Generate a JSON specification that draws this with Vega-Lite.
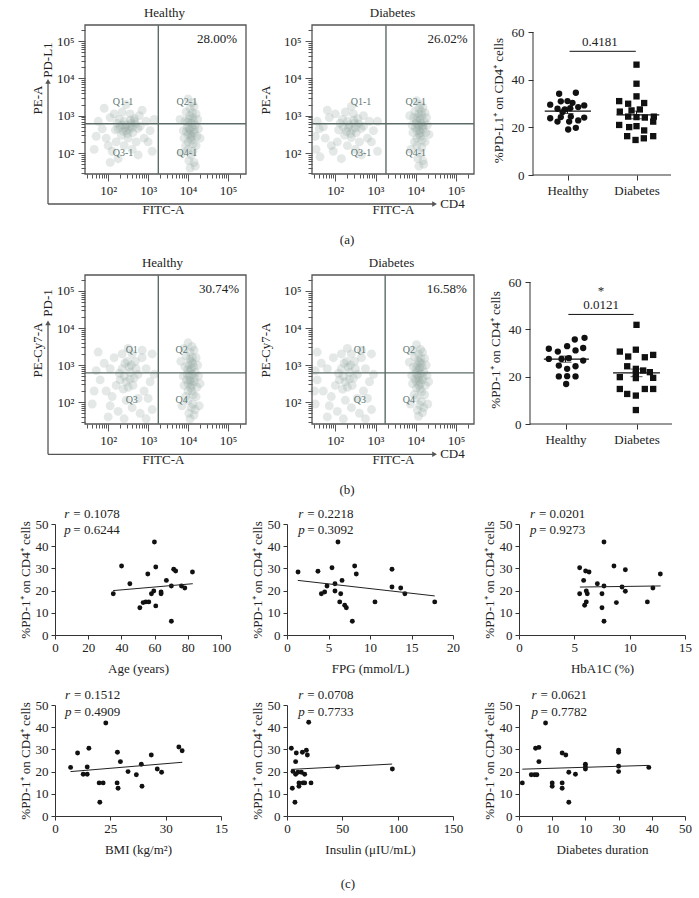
{
"$schema": "https://vega.github.io/schema/vega-lite/v6.json",
"autosize": {"type": "pad"},
"padding": {"left": 18, "top": 6, "right": 5, "bottom": 5},
"background": "white",
"config": {
  "font": "Liberation Serif",
  "view": {"stroke": null},
  "axis": {"labelFont": "Liberation Serif", "titleFont": "Liberation Serif", "labelFontSize": 13, "titleFontSize": 13, "titleFontWeight": "normal", "labelColor": "#222", "titleColor": "#222", "domainColor": "#333", "tickColor": "#333", "grid": false, "labelFlush": false, "labelOverlap": false},
  "title": {"font": "Liberation Serif", "fontSize": 13, "fontWeight": "normal", "color": "#222", "offset": 4},
  "text": {"font": "Liberation Serif", "fontSize": 13, "color": "#222"}
},
"datasets": {
  "flow": [
    {"p":"a1","x":2.30,"y":2.70},{"p":"a1","x":2.45,"y":2.75},{"p":"a1","x":2.60,"y":2.68},{"p":"a1","x":2.38,"y":2.58},{"p":"a1","x":2.52,"y":2.62},{"p":"a1","x":2.68,"y":2.78},{"p":"a1","x":2.22,"y":2.80},{"p":"a1","x":2.40,"y":2.85},{"p":"a1","x":2.56,"y":2.88},{"p":"a1","x":2.74,"y":2.66},{"p":"a1","x":2.33,"y":2.48},{"p":"a1","x":2.48,"y":2.52},{"p":"a1","x":2.62,"y":2.55},{"p":"a1","x":2.18,"y":2.62},{"p":"a1","x":2.80,"y":2.72},{"p":"a1","x":2.42,"y":2.68},{"p":"a1","x":2.58,"y":2.80},{"p":"a1","x":2.28,"y":2.90},{"p":"a1","x":2.66,"y":2.92},{"p":"a1","x":2.50,"y":2.40},{"p":"a1","x":1.85,"y":2.65},{"p":"a1","x":1.95,"y":2.40},{"p":"a1","x":2.05,"y":2.95},{"p":"a1","x":2.00,"y":2.20},{"p":"a1","x":2.15,"y":3.05},{"p":"a1","x":2.35,"y":3.10},{"p":"a1","x":2.55,"y":3.05},{"p":"a1","x":2.78,"y":3.00},{"p":"a1","x":2.95,"y":2.85},{"p":"a1","x":3.05,"y":2.60},{"p":"a1","x":2.90,"y":2.40},{"p":"a1","x":2.70,"y":2.30},{"p":"a1","x":2.40,"y":2.20},{"p":"a1","x":2.20,"y":2.30},{"p":"a1","x":1.75,"y":2.85},{"p":"a1","x":2.10,"y":2.05},{"p":"a1","x":2.60,"y":2.10},{"p":"a1","x":3.00,"y":2.30},{"p":"a1","x":1.70,"y":2.45},{"p":"a1","x":2.85,"y":3.15},{"p":"a1","x":1.65,"y":2.10},{"p":"a1","x":2.25,"y":1.85},{"p":"a1","x":2.75,"y":1.95},{"p":"a1","x":3.10,"y":2.05},{"p":"a1","x":1.90,"y":3.20},{"p":"a1","x":2.45,"y":3.30},{"p":"a1","x":3.15,"y":2.90},{"p":"a1","x":2.05,"y":1.75},{"p":"a1","x":2.35,"y":2.75},{"p":"a1","x":2.55,"y":2.72},{"p":"a1","x":2.45,"y":2.60},{"p":"a1","x":2.65,"y":2.85},{"p":"a1","x":2.25,"y":2.65},
    {"p":"a1","x":4.05,"y":2.60},{"p":"a1","x":4.10,"y":2.70},{"p":"a1","x":4.00,"y":2.50},{"p":"a1","x":4.15,"y":2.55},{"p":"a1","x":4.08,"y":2.80},{"p":"a1","x":4.02,"y":2.90},{"p":"a1","x":4.12,"y":2.95},{"p":"a1","x":4.06,"y":2.40},{"p":"a1","x":3.98,"y":2.70},{"p":"a1","x":4.18,"y":2.75},{"p":"a1","x":4.10,"y":2.45},{"p":"a1","x":4.04,"y":3.00},{"p":"a1","x":4.14,"y":2.85},{"p":"a1","x":4.00,"y":2.30},{"p":"a1","x":4.09,"y":2.35},{"p":"a1","x":4.16,"y":2.62},{"p":"a1","x":3.96,"y":2.58},{"p":"a1","x":4.07,"y":2.50},{"p":"a1","x":4.11,"y":3.08},{"p":"a1","x":4.03,"y":2.65},{"p":"a1","x":4.13,"y":2.25},{"p":"a1","x":3.99,"y":2.82},{"p":"a1","x":3.90,"y":2.40},{"p":"a1","x":3.92,"y":2.85},{"p":"a1","x":4.22,"y":2.45},{"p":"a1","x":4.24,"y":2.90},{"p":"a1","x":4.05,"y":3.20},{"p":"a1","x":4.15,"y":3.25},{"p":"a1","x":3.95,"y":3.10},{"p":"a1","x":4.00,"y":2.10},{"p":"a1","x":4.12,"y":2.05},{"p":"a1","x":4.20,"y":2.20},{"p":"a1","x":3.88,"y":2.60},{"p":"a1","x":4.26,"y":2.65},{"p":"a1","x":4.08,"y":1.95},{"p":"a1","x":4.02,"y":1.80},{"p":"a1","x":4.15,"y":1.75},{"p":"a1","x":4.10,"y":3.35},{"p":"a1","x":3.94,"y":2.20},{"p":"a1","x":4.20,"y":3.05},{"p":"a1","x":4.05,"y":1.60},{"p":"a1","x":4.18,"y":1.65},{"p":"a1","x":3.85,"y":2.00},{"p":"a1","x":3.80,"y":2.90},{"p":"a1","x":4.30,"y":2.40},{"p":"a1","x":4.00,"y":3.45},
    {"p":"a2","x":2.20,"y":2.70},{"p":"a2","x":2.35,"y":2.75},{"p":"a2","x":2.50,"y":2.68},{"p":"a2","x":2.28,"y":2.58},{"p":"a2","x":2.42,"y":2.62},{"p":"a2","x":2.58,"y":2.78},{"p":"a2","x":2.12,"y":2.80},{"p":"a2","x":2.30,"y":2.85},{"p":"a2","x":2.46,"y":2.88},{"p":"a2","x":2.64,"y":2.66},{"p":"a2","x":2.23,"y":2.48},{"p":"a2","x":2.38,"y":2.52},{"p":"a2","x":2.52,"y":2.55},{"p":"a2","x":2.08,"y":2.62},{"p":"a2","x":2.70,"y":2.72},{"p":"a2","x":2.32,"y":2.68},{"p":"a2","x":2.48,"y":2.80},{"p":"a2","x":2.18,"y":2.90},{"p":"a2","x":2.56,"y":2.92},{"p":"a2","x":2.40,"y":2.42},{"p":"a2","x":1.60,"y":2.65},{"p":"a2","x":1.75,"y":2.40},{"p":"a2","x":1.85,"y":2.95},{"p":"a2","x":1.90,"y":2.20},{"p":"a2","x":2.00,"y":3.05},{"p":"a2","x":2.25,"y":3.10},{"p":"a2","x":2.45,"y":3.05},{"p":"a2","x":2.70,"y":3.00},{"p":"a2","x":2.85,"y":2.85},{"p":"a2","x":2.95,"y":2.60},{"p":"a2","x":2.80,"y":2.40},{"p":"a2","x":2.60,"y":2.30},{"p":"a2","x":2.30,"y":2.20},{"p":"a2","x":2.05,"y":2.30},{"p":"a2","x":1.55,"y":2.85},{"p":"a2","x":1.95,"y":2.05},{"p":"a2","x":2.50,"y":2.10},{"p":"a2","x":2.90,"y":2.30},{"p":"a2","x":1.50,"y":2.45},{"p":"a2","x":1.70,"y":2.70},{"p":"a2","x":1.52,"y":2.10},{"p":"a2","x":2.15,"y":1.85},{"p":"a2","x":2.65,"y":1.95},{"p":"a2","x":3.05,"y":2.05},{"p":"a2","x":1.80,"y":3.15},{"p":"a2","x":2.40,"y":3.25},{"p":"a2","x":3.05,"y":2.85},{"p":"a2","x":1.62,"y":1.90},
    {"p":"a2","x":4.08,"y":2.70},{"p":"a2","x":4.13,"y":2.80},{"p":"a2","x":4.03,"y":2.60},{"p":"a2","x":4.18,"y":2.65},{"p":"a2","x":4.11,"y":2.90},{"p":"a2","x":4.05,"y":2.95},{"p":"a2","x":4.15,"y":3.00},{"p":"a2","x":4.09,"y":2.50},{"p":"a2","x":4.01,"y":2.80},{"p":"a2","x":4.21,"y":2.85},{"p":"a2","x":4.13,"y":2.55},{"p":"a2","x":4.07,"y":3.05},{"p":"a2","x":4.17,"y":2.75},{"p":"a2","x":4.03,"y":2.40},{"p":"a2","x":4.12,"y":2.45},{"p":"a2","x":4.19,"y":2.72},{"p":"a2","x":3.99,"y":2.68},{"p":"a2","x":4.10,"y":2.60},{"p":"a2","x":4.14,"y":3.10},{"p":"a2","x":4.06,"y":2.75},{"p":"a2","x":4.16,"y":2.35},{"p":"a2","x":4.02,"y":2.88},{"p":"a2","x":3.93,"y":2.55},{"p":"a2","x":3.95,"y":2.95},{"p":"a2","x":4.25,"y":2.55},{"p":"a2","x":4.27,"y":2.95},{"p":"a2","x":4.08,"y":3.20},{"p":"a2","x":4.18,"y":3.22},{"p":"a2","x":3.98,"y":3.12},{"p":"a2","x":4.03,"y":2.20},{"p":"a2","x":4.15,"y":2.15},{"p":"a2","x":4.23,"y":2.30},{"p":"a2","x":3.91,"y":2.75},{"p":"a2","x":4.29,"y":2.75},{"p":"a2","x":4.11,"y":2.00},{"p":"a2","x":4.05,"y":1.85},{"p":"a2","x":4.18,"y":1.80},{"p":"a2","x":4.12,"y":3.30},{"p":"a2","x":3.97,"y":2.30},{"p":"a2","x":4.23,"y":3.08},{"p":"a2","x":4.08,"y":1.65},{"p":"a2","x":4.20,"y":1.70},{"p":"a2","x":3.88,"y":2.10},{"p":"a2","x":3.85,"y":3.00},{"p":"a2","x":4.33,"y":2.50},{"p":"a2","x":4.02,"y":3.40},
    {"p":"b1","x":2.40,"y":2.70},{"p":"b1","x":2.55,"y":2.80},{"p":"b1","x":2.65,"y":2.65},{"p":"b1","x":2.45,"y":2.55},{"p":"b1","x":2.58,"y":3.00},{"p":"b1","x":2.35,"y":2.90},{"p":"b1","x":2.70,"y":2.90},{"p":"b1","x":2.50,"y":2.40},{"p":"b1","x":2.30,"y":2.60},{"p":"b1","x":2.62,"y":2.45},{"p":"b1","x":2.48,"y":3.10},{"p":"b1","x":2.75,"y":2.75},{"p":"b1","x":2.38,"y":2.35},{"p":"b1","x":2.55,"y":2.62},{"p":"b1","x":2.42,"y":3.05},{"p":"b1","x":2.68,"y":3.10},{"p":"b1","x":2.28,"y":2.78},{"p":"b1","x":2.52,"y":2.95},{"p":"b1","x":1.80,"y":2.60},{"p":"b1","x":1.95,"y":2.30},{"p":"b1","x":2.05,"y":2.90},{"p":"b1","x":2.10,"y":2.15},{"p":"b1","x":2.15,"y":3.20},{"p":"b1","x":2.35,"y":3.30},{"p":"b1","x":2.60,"y":3.30},{"p":"b1","x":2.85,"y":3.20},{"p":"b1","x":2.95,"y":2.90},{"p":"b1","x":3.05,"y":2.55},{"p":"b1","x":2.90,"y":2.30},{"p":"b1","x":2.75,"y":2.10},{"p":"b1","x":2.45,"y":2.05},{"p":"b1","x":2.20,"y":2.45},{"p":"b1","x":1.70,"y":2.85},{"p":"b1","x":2.05,"y":1.90},{"p":"b1","x":2.60,"y":1.85},{"p":"b1","x":3.00,"y":2.10},{"p":"b1","x":1.65,"y":2.30},{"p":"b1","x":2.85,"y":3.40},{"p":"b1","x":1.90,"y":3.05},{"p":"b1","x":2.25,"y":1.75},{"p":"b1","x":2.80,"y":1.70},{"p":"b1","x":2.50,"y":3.45},{"p":"b1","x":1.60,"y":1.95},{"p":"b1","x":2.00,"y":1.60},{"p":"b1","x":3.10,"y":1.80},{"p":"b1","x":3.15,"y":2.75},{"p":"b1","x":1.75,"y":3.35},{"p":"b1","x":2.40,"y":1.55},{"p":"b1","x":2.95,"y":1.55},{"p":"b1","x":3.10,"y":3.30},
    {"p":"b1","x":4.05,"y":2.60},{"p":"b1","x":4.10,"y":2.75},{"p":"b1","x":4.00,"y":2.50},{"p":"b1","x":4.15,"y":2.55},{"p":"b1","x":4.08,"y":2.90},{"p":"b1","x":4.02,"y":3.00},{"p":"b1","x":4.12,"y":3.05},{"p":"b1","x":4.06,"y":2.40},{"p":"b1","x":3.98,"y":2.75},{"p":"b1","x":4.18,"y":2.80},{"p":"b1","x":4.10,"y":2.45},{"p":"b1","x":4.04,"y":3.15},{"p":"b1","x":4.14,"y":2.95},{"p":"b1","x":4.00,"y":2.30},{"p":"b1","x":4.09,"y":2.30},{"p":"b1","x":4.16,"y":2.65},{"p":"b1","x":3.96,"y":2.60},{"p":"b1","x":4.07,"y":2.55},{"p":"b1","x":4.11,"y":3.20},{"p":"b1","x":4.03,"y":2.70},{"p":"b1","x":4.13,"y":2.20},{"p":"b1","x":3.99,"y":2.88},{"p":"b1","x":4.08,"y":3.10},{"p":"b1","x":4.05,"y":2.85},{"p":"b1","x":3.90,"y":2.45},{"p":"b1","x":3.92,"y":2.95},{"p":"b1","x":4.22,"y":2.40},{"p":"b1","x":4.24,"y":3.00},{"p":"b1","x":4.05,"y":3.35},{"p":"b1","x":4.15,"y":3.40},{"p":"b1","x":3.95,"y":3.25},{"p":"b1","x":4.00,"y":2.05},{"p":"b1","x":4.12,"y":1.95},{"p":"b1","x":4.20,"y":2.15},{"p":"b1","x":3.88,"y":2.70},{"p":"b1","x":4.26,"y":2.70},{"p":"b1","x":4.08,"y":1.85},{"p":"b1","x":4.02,"y":1.70},{"p":"b1","x":4.15,"y":1.65},{"p":"b1","x":4.10,"y":3.50},{"p":"b1","x":3.94,"y":2.15},{"p":"b1","x":4.20,"y":3.20},{"p":"b1","x":4.05,"y":1.55},{"p":"b1","x":4.18,"y":1.80},{"p":"b1","x":3.85,"y":1.90},{"p":"b1","x":3.82,"y":3.10},{"p":"b1","x":4.30,"y":2.50},{"p":"b1","x":4.00,"y":3.60},{"p":"b1","x":4.28,"y":1.90},{"p":"b1","x":3.90,"y":3.45},
    {"p":"b2","x":2.20,"y":2.70},{"p":"b2","x":2.35,"y":2.80},{"p":"b2","x":2.45,"y":2.65},{"p":"b2","x":2.25,"y":2.55},{"p":"b2","x":2.38,"y":3.00},{"p":"b2","x":2.15,"y":2.90},{"p":"b2","x":2.50,"y":2.90},{"p":"b2","x":2.30,"y":2.40},{"p":"b2","x":2.10,"y":2.60},{"p":"b2","x":2.42,"y":2.45},{"p":"b2","x":2.28,"y":3.10},{"p":"b2","x":2.55,"y":2.75},{"p":"b2","x":2.18,"y":2.35},{"p":"b2","x":2.35,"y":2.62},{"p":"b2","x":2.22,"y":3.05},{"p":"b2","x":2.48,"y":3.10},{"p":"b2","x":2.08,"y":2.78},{"p":"b2","x":2.32,"y":2.95},{"p":"b2","x":1.55,"y":2.60},{"p":"b2","x":1.70,"y":2.30},{"p":"b2","x":1.80,"y":2.90},{"p":"b2","x":1.90,"y":2.15},{"p":"b2","x":1.95,"y":3.20},{"p":"b2","x":2.15,"y":3.30},{"p":"b2","x":2.40,"y":3.30},{"p":"b2","x":2.65,"y":3.20},{"p":"b2","x":2.75,"y":2.90},{"p":"b2","x":2.85,"y":2.55},{"p":"b2","x":2.70,"y":2.30},{"p":"b2","x":2.55,"y":2.10},{"p":"b2","x":2.25,"y":2.05},{"p":"b2","x":2.00,"y":2.45},{"p":"b2","x":1.50,"y":2.85},{"p":"b2","x":1.85,"y":1.90},{"p":"b2","x":2.40,"y":1.85},{"p":"b2","x":2.80,"y":2.10},{"p":"b2","x":1.48,"y":2.30},{"p":"b2","x":2.65,"y":3.40},{"p":"b2","x":1.65,"y":3.05},{"p":"b2","x":2.05,"y":1.75},{"p":"b2","x":2.60,"y":1.70},{"p":"b2","x":2.30,"y":3.45},{"p":"b2","x":1.50,"y":1.95},{"p":"b2","x":1.80,"y":1.60},{"p":"b2","x":2.90,"y":1.80},{"p":"b2","x":2.95,"y":2.75},{"p":"b2","x":1.55,"y":3.35},{"p":"b2","x":2.20,"y":1.55},{"p":"b2","x":2.75,"y":1.55},{"p":"b2","x":2.90,"y":3.30},
    {"p":"b2","x":4.07,"y":2.65},{"p":"b2","x":4.12,"y":2.78},{"p":"b2","x":4.02,"y":2.55},{"p":"b2","x":4.17,"y":2.60},{"p":"b2","x":4.10,"y":2.92},{"p":"b2","x":4.04,"y":3.00},{"p":"b2","x":4.14,"y":3.05},{"p":"b2","x":4.08,"y":2.45},{"p":"b2","x":4.00,"y":2.78},{"p":"b2","x":4.20,"y":2.82},{"p":"b2","x":4.12,"y":2.50},{"p":"b2","x":4.06,"y":3.12},{"p":"b2","x":4.16,"y":2.95},{"p":"b2","x":4.02,"y":2.38},{"p":"b2","x":4.11,"y":2.35},{"p":"b2","x":4.18,"y":2.68},{"p":"b2","x":3.98,"y":2.62},{"p":"b2","x":4.09,"y":2.58},{"p":"b2","x":4.13,"y":3.18},{"p":"b2","x":4.05,"y":2.72},{"p":"b2","x":4.15,"y":2.28},{"p":"b2","x":4.01,"y":2.90},{"p":"b2","x":4.10,"y":3.08},{"p":"b2","x":4.07,"y":2.86},{"p":"b2","x":3.92,"y":2.50},{"p":"b2","x":3.94,"y":2.95},{"p":"b2","x":4.24,"y":2.45},{"p":"b2","x":4.26,"y":3.00},{"p":"b2","x":4.07,"y":3.30},{"p":"b2","x":4.17,"y":3.35},{"p":"b2","x":3.97,"y":3.22},{"p":"b2","x":4.02,"y":2.12},{"p":"b2","x":4.14,"y":2.02},{"p":"b2","x":4.22,"y":2.20},{"p":"b2","x":3.90,"y":2.72},{"p":"b2","x":4.28,"y":2.72},{"p":"b2","x":4.10,"y":1.92},{"p":"b2","x":4.04,"y":1.78},{"p":"b2","x":4.17,"y":1.72},{"p":"b2","x":4.12,"y":3.42},{"p":"b2","x":3.96,"y":2.20},{"p":"b2","x":4.22,"y":3.18},{"p":"b2","x":4.07,"y":1.62},{"p":"b2","x":4.20,"y":1.85},{"p":"b2","x":3.87,"y":1.95},{"p":"b2","x":3.84,"y":3.08},{"p":"b2","x":4.32,"y":2.55},{"p":"b2","x":4.02,"y":3.55},{"p":"b2","x":4.30,"y":1.95},{"p":"b2","x":3.92,"y":3.40}
  ],
  "pdl1": [
    {"g":"Healthy","x":0.879,"y":34.1},{"g":"Healthy","x":1.121,"y":34.5},{"g":"Healthy","x":0.749,"y":29.5},{"g":"Healthy","x":0.903,"y":30.9},{"g":"Healthy","x":1.0,"y":31.0},{"g":"Healthy","x":1.072,"y":30.3},{"g":"Healthy","x":1.242,"y":29.2},{"g":"Healthy","x":0.855,"y":27.8},{"g":"Healthy","x":0.961,"y":27.5},{"g":"Healthy","x":1.039,"y":28.0},{"g":"Healthy","x":1.155,"y":28.5},{"g":"Healthy","x":0.928,"y":26.4},{"g":"Healthy","x":0.749,"y":23.8},{"g":"Healthy","x":0.903,"y":24.3},{"g":"Healthy","x":1.048,"y":24.5},{"g":"Healthy","x":1.242,"y":24.1},{"g":"Healthy","x":0.855,"y":22.4},{"g":"Healthy","x":1.024,"y":22.4},{"g":"Healthy","x":1.155,"y":22.9},{"g":"Healthy","x":1.010,"y":19.1},{"g":"Healthy","x":1.121,"y":19.8},
    {"g":"Diabetes","x":2.0,"y":46.3},{"g":"Diabetes","x":2.0,"y":38.3},{"g":"Diabetes","x":2.0,"y":33.0},{"g":"Diabetes","x":1.749,"y":31.0},{"g":"Diabetes","x":1.879,"y":29.9},{"g":"Diabetes","x":2.111,"y":30.2},{"g":"Diabetes","x":1.758,"y":26.6},{"g":"Diabetes","x":1.928,"y":27.1},{"g":"Diabetes","x":2.048,"y":27.5},{"g":"Diabetes","x":1.879,"y":24.5},{"g":"Diabetes","x":2.0,"y":24.3},{"g":"Diabetes","x":2.121,"y":24.1},{"g":"Diabetes","x":2.251,"y":24.5},{"g":"Diabetes","x":1.749,"y":21.0},{"g":"Diabetes","x":1.894,"y":20.1},{"g":"Diabetes","x":2.0,"y":20.5},{"g":"Diabetes","x":2.242,"y":22.4},{"g":"Diabetes","x":2.111,"y":18.7},{"g":"Diabetes","x":1.865,"y":16.3},{"g":"Diabetes","x":1.986,"y":14.7},{"g":"Diabetes","x":2.106,"y":15.4},{"g":"Diabetes","x":2.242,"y":16.3}
  ],
  "pdl1s": [
    {"g":"Healthy","c":1,"m":26.8,"lo":25.8,"hi":27.8,"l":0.67,"r":1.34},
    {"g":"Diabetes","c":2,"m":25.2,"lo":23.6,"hi":26.8,"l":1.71,"r":2.33}
  ],
  "pd1": [
    {"g":"Healthy","x":1.131,"y":35.7},{"g":"Healthy","x":1.268,"y":36.4},{"g":"Healthy","x":0.765,"y":31.8},{"g":"Healthy","x":1.023,"y":32.9},{"g":"Healthy","x":1.249,"y":32.1},{"g":"Healthy","x":0.892,"y":30.6},{"g":"Healthy","x":1.141,"y":31.1},{"g":"Healthy","x":0.765,"y":27.5},{"g":"Healthy","x":0.944,"y":27.5},{"g":"Healthy","x":1.047,"y":27.8},{"g":"Healthy","x":1.249,"y":26.8},{"g":"Healthy","x":0.906,"y":24.7},{"g":"Healthy","x":1.141,"y":24.4},{"g":"Healthy","x":1.023,"y":23.3},{"g":"Healthy","x":0.906,"y":20.1},{"g":"Healthy","x":1.023,"y":20.2},{"g":"Healthy","x":1.141,"y":20.1},{"g":"Healthy","x":1.009,"y":16.9},
    {"g":"Diabetes","x":2.0,"y":41.9},{"g":"Diabetes","x":1.765,"y":30.6},{"g":"Diabetes","x":1.991,"y":31.4},{"g":"Diabetes","x":1.883,"y":28.5},{"g":"Diabetes","x":2.117,"y":28.2},{"g":"Diabetes","x":2.235,"y":29.2},{"g":"Diabetes","x":1.869,"y":24.4},{"g":"Diabetes","x":1.991,"y":23.3},{"g":"Diabetes","x":2.094,"y":22.6},{"g":"Diabetes","x":2.188,"y":21.9},{"g":"Diabetes","x":1.991,"y":21.2},{"g":"Diabetes","x":1.765,"y":19.8},{"g":"Diabetes","x":1.991,"y":19.4},{"g":"Diabetes","x":2.235,"y":19.5},{"g":"Diabetes","x":1.765,"y":14.8},{"g":"Diabetes","x":1.869,"y":12.7},{"g":"Diabetes","x":1.991,"y":12.0},{"g":"Diabetes","x":2.117,"y":14.8},{"g":"Diabetes","x":2.235,"y":14.8},{"g":"Diabetes","x":1.991,"y":5.9}
  ],
  "pd1s": [
    {"g":"Healthy","c":1,"m":27.4,"lo":26.1,"hi":28.7,"l":0.695,"r":1.33},
    {"g":"Diabetes","c":2,"m":21.6,"lo":20.0,"hi":23.2,"l":1.67,"r":2.33}
  ],
  "age": [{"x":35.1,"y":18.6},{"x":40.1,"y":31.1},{"x":45.1,"y":23.1},{"x":51.1,"y":12.3},{"x":53.1,"y":14.6},{"x":54.7,"y":14.9},{"x":55.9,"y":27.5},{"x":56.5,"y":14.9},{"x":58.1,"y":18.6},{"x":59.5,"y":19.8},{"x":59.9,"y":41.9},{"x":60.7,"y":30.6},{"x":60.7,"y":13.1},{"x":63.9,"y":19.4},{"x":63.9,"y":18.6},{"x":67.1,"y":24.6},{"x":70.1,"y":22.1},{"x":70.1,"y":6.2},{"x":71.5,"y":29.6},{"x":72.7,"y":28.8},{"x":76.2,"y":22.1},{"x":78.2,"y":21.2},{"x":82.8,"y":28.4}],
  "fpg": [{"x":1.33,"y":28.4},{"x":3.73,"y":28.7},{"x":4.14,"y":18.6},{"x":4.54,"y":19.4},{"x":4.82,"y":22.1},{"x":5.42,"y":30.3},{"x":5.78,"y":23.1},{"x":5.78,"y":19.8},{"x":6.35,"y":14.9},{"x":6.47,"y":18.6},{"x":6.63,"y":24.6},{"x":6.14,"y":41.9},{"x":6.95,"y":13.4},{"x":7.15,"y":12.3},{"x":7.87,"y":6.2},{"x":8.15,"y":31.1},{"x":8.35,"y":27.5},{"x":10.6,"y":14.9},{"x":12.65,"y":29.6},{"x":12.65,"y":21.6},{"x":13.7,"y":21.2},{"x":14.2,"y":18.6},{"x":17.8,"y":14.9}],
  "hba1c": [{"x":5.48,"y":30.3},{"x":5.48,"y":18.6},{"x":5.84,"y":24.6},{"x":5.93,"y":13.4},{"x":6.02,"y":28.8},{"x":6.08,"y":19.8},{"x":6.08,"y":14.9},{"x":6.17,"y":18.6},{"x":6.33,"y":28.4},{"x":7.08,"y":23.1},{"x":7.5,"y":18.6},{"x":7.5,"y":12.3},{"x":7.68,"y":41.9},{"x":7.68,"y":22.1},{"x":7.68,"y":6.2},{"x":8.58,"y":31.1},{"x":8.8,"y":14.6},{"x":9.61,"y":29.4},{"x":9.31,"y":21.6},{"x":9.61,"y":19.7},{"x":11.6,"y":14.9},{"x":12.1,"y":21.2},{"x":12.77,"y":27.5}],
  "bmi": [{"x":21.41,"y":21.9},{"x":22.04,"y":28.4},{"x":22.55,"y":18.8},{"x":22.91,"y":18.8},{"x":22.91,"y":22.1},{"x":23.06,"y":30.5},{"x":23.99,"y":14.9},{"x":24.05,"y":6.2},{"x":24.35,"y":14.9},{"x":24.59,"y":41.9},{"x":25.64,"y":28.7},{"x":25.61,"y":14.9},{"x":25.7,"y":12.5},{"x":25.91,"y":24.5},{"x":26.6,"y":20.0},{"x":27.35,"y":18.6},{"x":27.8,"y":23.3},{"x":27.86,"y":13.4},{"x":28.7,"y":27.5},{"x":29.24,"y":21.2},{"x":29.63,"y":19.7},{"x":31.19,"y":31.1},{"x":31.49,"y":29.4}],
  "insulin": [{"x":3.9,"y":30.5},{"x":4.8,"y":12.5},{"x":5.4,"y":20.1},{"x":7.2,"y":6.2},{"x":7.8,"y":24.5},{"x":8.4,"y":28.4},{"x":7.8,"y":18.8},{"x":9.9,"y":19.7},{"x":10.8,"y":14.9},{"x":10.8,"y":13.4},{"x":13.0,"y":19.7},{"x":13.9,"y":28.7},{"x":14.5,"y":14.9},{"x":16.0,"y":18.8},{"x":16.0,"y":14.9},{"x":17.5,"y":29.6},{"x":18.4,"y":27.5},{"x":19.6,"y":42.2},{"x":21.7,"y":14.9},{"x":45.8,"y":22.1},{"x":95.2,"y":21.2}],
  "dur": [{"x":1.0,"y":14.9},{"x":3.7,"y":18.6},{"x":4.7,"y":18.6},{"x":5.0,"y":30.5},{"x":5.4,"y":18.6},{"x":6.0,"y":30.9},{"x":6.0,"y":24.5},{"x":8.0,"y":41.9},{"x":10.0,"y":14.9},{"x":10.0,"y":13.4},{"x":13.0,"y":28.4},{"x":13.0,"y":14.9},{"x":13.0,"y":12.5},{"x":14.1,"y":27.5},{"x":15.0,"y":19.7},{"x":15.0,"y":6.2},{"x":17.0,"y":18.8},{"x":20.0,"y":23.3},{"x":20.0,"y":22.1},{"x":20.0,"y":21.2},{"x":30.0,"y":29.6},{"x":30.0,"y":28.7},{"x":30.0,"y":22.4},{"x":30.0,"y":20.0},{"x":39.1,"y":21.9}]
},
"columns": 5,
"spacing": 0,
"bounds": "flush",
"align": "each",
"concat": [
  {"width": 191, "height": 149, "title": {"text": "Healthy", "fontWeight": "normal", "dx": 14},
   "layer": [
    {"data": {"name": "flow"}, "transform": [{"filter": "datum.p == 'a1'"}],
     "mark": {"type": "circle", "size": 80, "opacity": 0.24, "color": "#8da19c"},
     "encoding": {
      "x": {"field": "x", "type": "quantitative", "scale": {"domain": [0.669, 5.45], "nice": false, "zero": false},
            "axis": {"values": [1.477,1.602,1.699,1.778,1.845,1.903,1.954,2,2.301,2.477,2.602,2.699,2.778,2.845,2.903,2.954,3,3.301,3.477,3.602,3.699,3.778,3.845,3.903,3.954,4,4.301,4.477,4.602,4.699,4.778,4.845,4.903,4.954,5,5.301], "tickCount": 100, "labelExpr": "datum.value == 2 ? '10²' : datum.value == 3 ? '10³' : datum.value == 4 ? '10⁴' : datum.value == 5 ? '10⁵' : ''", "title": "FITC-A", "titleX": 108, "domain": false, "tickSize": {"condition": {"test": "datum.value % 1 == 0", "value": 7}, "value": 4}, "tickColor": "#555", "labelPadding": 3, "titlePadding": 6, "labelOverlap": false, "labelFlush": false}},
      "y": {"field": "y", "type": "quantitative", "scale": {"domain": [1.44, 5.43], "nice": false, "zero": false},
            "axis": {"values": [1.477,1.602,1.699,1.778,1.845,1.903,1.954,2,2.301,2.477,2.602,2.699,2.778,2.845,2.903,2.954,3,3.301,3.477,3.602,3.699,3.778,3.845,3.903,3.954,4,4.301,4.477,4.602,4.699,4.778,4.845,4.903,4.954,5,5.301], "tickCount": 100, "labelExpr": "datum.value == 2 ? '10²' : datum.value == 3 ? '10³' : datum.value == 4 ? '10⁴' : datum.value == 5 ? '10⁵' : ''", "title": "PE-A", "offset": -30, "domain": false, "tickSize": {"condition": {"test": "datum.value % 1 == 0", "value": 7}, "value": 4}, "tickColor": "#555", "labelPadding": 4, "titlePadding": 12, "labelOverlap": false, "labelFlush": false}}
     }},
    {"data": {"values": [{}]}, "mark": {"type": "rect", "filled": false, "color": "#555", "strokeWidth": 1.3}, "encoding": {"x": {"datum": 1.42}, "x2": {"datum": 5.45}, "y": {"datum": 1.44}, "y2": {"datum": 5.43}}},
    {"data": {"values": [{"g": 3.255}]}, "mark": {"type": "rule", "color": "#5b6c68", "strokeWidth": 1.4}, "encoding": {"x": {"field": "g", "type": "quantitative"}}},
    {"data": {"values": [{"g": 2.787}]}, "mark": {"type": "rule", "color": "#5b6c68", "strokeWidth": 1.4}, "encoding": {"y": {"field": "g", "type": "quantitative"}, "x": {"datum": 1.42}, "x2": {"datum": 5.45}}},
    {"data": {"values": [{"t":"Q1-1","x":2.37,"y":3.37},{"t":"Q2-1","x":3.97,"y":3.37},{"t":"Q3-1","x":2.37,"y":2.01},{"t":"Q4-1","x":3.97,"y":2.01}]},
     "mark": {"type": "text", "fontSize": 10, "color": "#5e7874", "baseline": "middle"},
     "encoding": {"x": {"field": "x", "type": "quantitative"}, "y": {"field": "y", "type": "quantitative"}, "text": {"field": "t"}}},
    {"data": {"values": [{"t": "28.00%"}]}, "mark": {"type": "text", "align": "right", "baseline": "middle"}, "encoding": {"x": {"datum": 5.23}, "y": {"datum": 5.055}, "text": {"field": "t"}}},
    {"data": {"values": [{}]}, "mark": {"type": "rule", "color": "#555", "strokeWidth": 1.3}, "encoding": {"x": {"datum": 0.494}, "y": {"datum": 0.637}, "y2": {"datum": 3.9}}},
    {"data": {"values": [{}]}, "mark": {"type": "rule", "color": "#555", "strokeWidth": 1.3}, "encoding": {"x": {"datum": 0.494}, "x2": {"datum": 10.15}, "y": {"datum": 0.637}}},
    {"data": {"values": [{}]}, "mark": {"type": "point", "shape": "triangle-up", "filled": true, "color": "#555", "size": 30, "opacity": 1}, "encoding": {"x": {"datum": 0.494}, "y": {"datum": 3.92}}},
    {"data": {"values": [{}]}, "mark": {"type": "point", "shape": "triangle-right", "filled": true, "color": "#555", "size": 30, "opacity": 1}, "encoding": {"x": {"datum": 10.17}, "y": {"datum": 0.637}}},
    {"data": {"values": [{"t": "PD-L1"}]}, "mark": {"type": "text", "angle": 270, "align": "center", "baseline": "middle"}, "encoding": {"x": {"datum": 0.494}, "y": {"datum": 4.49}, "text": {"field": "t"}}},
    {"data": {"values": [{"t": "CD4"}]}, "mark": {"type": "text", "align": "left", "baseline": "middle"}, "encoding": {"x": {"datum": 10.31}, "y": {"datum": 0.637}, "text": {"field": "t"}}},
    {"data": {"values": [{"t": "(a)"}]}, "mark": {"type": "text", "align": "center", "baseline": "middle"}, "encoding": {"x": {"datum": 7.98}, "y": {"datum": -0.33}, "text": {"field": "t"}}}
   ]},
  {"width": 41, "height": 250, "data": {"values": []}, "mark": "point"},
  {"width": 187, "height": 149, "title": {"text": "Diabetes", "fontWeight": "normal", "dx": 12},
   "layer": [
    {"data": {"name": "flow"}, "transform": [{"filter": "datum.p == 'a2'"}],
     "mark": {"type": "circle", "size": 80, "opacity": 0.24, "color": "#8da19c"},
     "encoding": {
      "x": {"field": "x", "type": "quantitative", "scale": {"domain": [0.798, 5.45], "nice": false, "zero": false},
            "axis": {"values": [1.477,1.602,1.699,1.778,1.845,1.903,1.954,2,2.301,2.477,2.602,2.699,2.778,2.845,2.903,2.954,3,3.301,3.477,3.602,3.699,3.778,3.845,3.903,3.954,4,4.301,4.477,4.602,4.699,4.778,4.845,4.903,4.954,5,5.301], "tickCount": 100, "labelExpr": "datum.value == 2 ? '10²' : datum.value == 3 ? '10³' : datum.value == 4 ? '10⁴' : datum.value == 5 ? '10⁵' : ''", "title": "FITC-A", "titleX": 106, "domain": false, "tickSize": {"condition": {"test": "datum.value % 1 == 0", "value": 7}, "value": 4}, "tickColor": "#555", "labelPadding": 3, "titlePadding": 6, "labelOverlap": false, "labelFlush": false}},
      "y": {"field": "y", "type": "quantitative", "scale": {"domain": [1.44, 5.43], "nice": false, "zero": false},
            "axis": {"values": [1.477,1.602,1.699,1.778,1.845,1.903,1.954,2,2.301,2.477,2.602,2.699,2.778,2.845,2.903,2.954,3,3.301,3.477,3.602,3.699,3.778,3.845,3.903,3.954,4,4.301,4.477,4.602,4.699,4.778,4.845,4.903,4.954,5,5.301], "tickCount": 100, "labelExpr": "datum.value == 2 ? '10²' : datum.value == 3 ? '10³' : datum.value == 4 ? '10⁴' : datum.value == 5 ? '10⁵' : ''", "title": "PE-A", "offset": -25, "domain": false, "tickSize": {"condition": {"test": "datum.value % 1 == 0", "value": 7}, "value": 4}, "tickColor": "#555", "labelPadding": 4, "titlePadding": 11, "labelOverlap": false, "labelFlush": false}}
     }},
    {"data": {"values": [{}]}, "mark": {"type": "rect", "filled": false, "color": "#555", "strokeWidth": 1.3}, "encoding": {"x": {"datum": 1.42}, "x2": {"datum": 5.45}, "y": {"datum": 1.44}, "y2": {"datum": 5.43}}},
    {"data": {"values": [{"g": 3.26}]}, "mark": {"type": "rule", "color": "#5b6c68", "strokeWidth": 1.4}, "encoding": {"x": {"field": "g", "type": "quantitative"}}},
    {"data": {"values": [{"g": 2.787}]}, "mark": {"type": "rule", "color": "#5b6c68", "strokeWidth": 1.4}, "encoding": {"y": {"field": "g", "type": "quantitative"}, "x": {"datum": 1.42}, "x2": {"datum": 5.45}}},
    {"data": {"values": [{"t":"Q1-1","x":2.64,"y":3.37},{"t":"Q2-1","x":4.0,"y":3.37},{"t":"Q3-1","x":2.64,"y":2.01},{"t":"Q4-1","x":4.0,"y":2.01}]},
     "mark": {"type": "text", "fontSize": 10, "color": "#5e7874", "baseline": "middle"},
     "encoding": {"x": {"field": "x", "type": "quantitative"}, "y": {"field": "y", "type": "quantitative"}, "text": {"field": "t"}}},
    {"data": {"values": [{"t": "26.02%"}]}, "mark": {"type": "text", "align": "right", "baseline": "middle"}, "encoding": {"x": {"datum": 5.29}, "y": {"datum": 5.055}, "text": {"field": "t"}}}
   ]},
  {"width": 45, "height": 1, "data": {"values": []}, "mark": "point"},
  {"width": 152, "height": 150,
   "layer": [
    {"data": {"name": "pdl1"},
     "mark": {"type": "point", "filled": true, "color": "#111", "size": 40, "opacity": 1},
     "encoding": {
      "x": {"field": "x", "type": "quantitative", "scale": {"domain": [0.297, 2.5], "nice": false, "zero": false}, "axis": {"values": [1, 2], "tickCount": 100, "labelExpr": "datum.value == 1 ? 'Healthy' : 'Diabetes'", "title": null, "domain": false, "tickSize": 5, "labelPadding": 4, "labelOverlap": false, "labelFlush": false}},
      "y": {"field": "y", "type": "quantitative", "scale": {"domain": [0, 62.94], "nice": false}, "axis": {"values": [0, 20, 40, 60], "tickCount": 100, "format": "d", "title": "%PD-L1⁺ on CD4⁺ cells", "offset": -14, "domain": false, "tickSize": 5, "labelPadding": 4, "titlePadding": 6, "labelOverlap": false, "labelFlush": false}},
      "shape": {"field": "g", "type": "nominal", "scale": {"domain": ["Healthy", "Diabetes"], "range": ["circle", "square"]}, "legend": null}
     }},
    {"data": {"values": [{}]}, "mark": {"type": "rule", "color": "#333"}, "encoding": {"x": {"datum": 0.5}, "y": {"datum": 0}, "y2": {"datum": 60}}},
    {"data": {"values": [{}]}, "mark": {"type": "rule", "color": "#333"}, "encoding": {"x": {"datum": 0.5}, "x2": {"datum": 2.5}, "y": {"datum": 0}}},
    {"data": {"name": "pdl1s"}, "mark": {"type": "rule", "color": "#111", "strokeWidth": 1.3}, "encoding": {"x": {"field": "l", "type": "quantitative"}, "x2": {"field": "r"}, "y": {"field": "m", "type": "quantitative"}}},
    {"data": {"name": "pdl1s"}, "mark": {"type": "rule", "color": "#111"}, "encoding": {"x": {"field": "c", "type": "quantitative"}, "y": {"field": "lo", "type": "quantitative"}, "y2": {"field": "hi"}}},
    {"data": {"name": "pdl1s"}, "mark": {"type": "tick", "orient": "horizontal", "color": "#111", "size": 12, "thickness": 1}, "encoding": {"x": {"field": "c", "type": "quantitative"}, "y": {"field": "lo", "type": "quantitative"}}},
    {"data": {"name": "pdl1s"}, "mark": {"type": "tick", "orient": "horizontal", "color": "#111", "size": 12, "thickness": 1}, "encoding": {"x": {"field": "c", "type": "quantitative"}, "y": {"field": "hi", "type": "quantitative"}}},
    {"data": {"values": [{}]}, "mark": {"type": "rule", "color": "#111"}, "encoding": {"x": {"datum": 1.03}, "x2": {"datum": 1.99}, "y": {"datum": 51.9}}},
    {"data": {"values": [{"t": "0.4181"}]}, "mark": {"type": "text", "baseline": "middle"}, "encoding": {"x": {"datum": 1.47}, "y": {"datum": 55.7}, "text": {"field": "t"}}}
   ]},

  {"width": 191, "height": 149, "title": {"text": "Healthy", "fontWeight": "normal", "dx": 12},
   "layer": [
    {"data": {"name": "flow"}, "transform": [{"filter": "datum.p == 'b1'"}],
     "mark": {"type": "circle", "size": 80, "opacity": 0.24, "color": "#8da19c"},
     "encoding": {
      "x": {"field": "x", "type": "quantitative", "scale": {"domain": [0.669, 5.45], "nice": false, "zero": false},
            "axis": {"values": [1.477,1.602,1.699,1.778,1.845,1.903,1.954,2,2.301,2.477,2.602,2.699,2.778,2.845,2.903,2.954,3,3.301,3.477,3.602,3.699,3.778,3.845,3.903,3.954,4,4.301,4.477,4.602,4.699,4.778,4.845,4.903,4.954,5,5.301], "tickCount": 100, "labelExpr": "datum.value == 2 ? '10²' : datum.value == 3 ? '10³' : datum.value == 4 ? '10⁴' : datum.value == 5 ? '10⁵' : ''", "title": "FITC-A", "titleX": 108, "domain": false, "tickSize": {"condition": {"test": "datum.value % 1 == 0", "value": 7}, "value": 4}, "tickColor": "#555", "labelPadding": 3, "titlePadding": 6, "labelOverlap": false, "labelFlush": false}},
      "y": {"field": "y", "type": "quantitative", "scale": {"domain": [1.41, 5.43], "nice": false, "zero": false},
            "axis": {"values": [1.477,1.602,1.699,1.778,1.845,1.903,1.954,2,2.301,2.477,2.602,2.699,2.778,2.845,2.903,2.954,3,3.301,3.477,3.602,3.699,3.778,3.845,3.903,3.954,4,4.301,4.477,4.602,4.699,4.778,4.845,4.903,4.954,5,5.301], "tickCount": 100, "labelExpr": "datum.value == 2 ? '10²' : datum.value == 3 ? '10³' : datum.value == 4 ? '10⁴' : datum.value == 5 ? '10⁵' : ''", "title": "PE-Cy7-A", "offset": -30, "domain": false, "tickSize": {"condition": {"test": "datum.value % 1 == 0", "value": 7}, "value": 4}, "tickColor": "#555", "labelPadding": 4, "titlePadding": 12, "labelOverlap": false, "labelFlush": false}}
     }},
    {"data": {"values": [{}]}, "mark": {"type": "rect", "filled": false, "color": "#555", "strokeWidth": 1.3}, "encoding": {"x": {"datum": 1.42}, "x2": {"datum": 5.45}, "y": {"datum": 1.41}, "y2": {"datum": 5.43}}},
    {"data": {"values": [{"g": 3.255}]}, "mark": {"type": "rule", "color": "#5b6c68", "strokeWidth": 1.4}, "encoding": {"x": {"field": "g", "type": "quantitative"}}},
    {"data": {"values": [{"g": 2.79}]}, "mark": {"type": "rule", "color": "#5b6c68", "strokeWidth": 1.4}, "encoding": {"y": {"field": "g", "type": "quantitative"}, "x": {"datum": 1.42}, "x2": {"datum": 5.45}}},
    {"data": {"values": [{"t":"Q1","x":2.59,"y":3.40},{"t":"Q2","x":3.84,"y":3.40},{"t":"Q3","x":2.59,"y":2.07},{"t":"Q4","x":3.84,"y":2.07}]},
     "mark": {"type": "text", "fontSize": 10, "color": "#5e7874", "baseline": "middle"},
     "encoding": {"x": {"field": "x", "type": "quantitative"}, "y": {"field": "y", "type": "quantitative"}, "text": {"field": "t"}}},
    {"data": {"values": [{"t": "30.74%"}]}, "mark": {"type": "text", "align": "right", "baseline": "middle"}, "encoding": {"x": {"datum": 5.28}, "y": {"datum": 5.06}, "text": {"field": "t"}}},
    {"data": {"values": [{}]}, "mark": {"type": "rule", "color": "#555", "strokeWidth": 1.3}, "encoding": {"x": {"datum": 0.494}, "y": {"datum": 0.592}, "y2": {"datum": 4.13}}},
    {"data": {"values": [{}]}, "mark": {"type": "rule", "color": "#555", "strokeWidth": 1.3}, "encoding": {"x": {"datum": 0.494}, "x2": {"datum": 10.15}, "y": {"datum": 0.592}}},
    {"data": {"values": [{}]}, "mark": {"type": "point", "shape": "triangle-up", "filled": true, "color": "#555", "size": 30, "opacity": 1}, "encoding": {"x": {"datum": 0.494}, "y": {"datum": 4.14}}},
    {"data": {"values": [{}]}, "mark": {"type": "point", "shape": "triangle-right", "filled": true, "color": "#555", "size": 30, "opacity": 1}, "encoding": {"x": {"datum": 10.17}, "y": {"datum": 0.592}}},
    {"data": {"values": [{"t": "PD-1"}]}, "mark": {"type": "text", "angle": 270, "align": "center", "baseline": "middle"}, "encoding": {"x": {"datum": 0.494}, "y": {"datum": 4.675}, "text": {"field": "t"}}},
    {"data": {"values": [{"t": "CD4"}]}, "mark": {"type": "text", "align": "left", "baseline": "middle"}, "encoding": {"x": {"datum": 10.31}, "y": {"datum": 0.592}, "text": {"field": "t"}}},
    {"data": {"values": [{"t": "(b)"}]}, "mark": {"type": "text", "align": "center", "baseline": "middle"}, "encoding": {"x": {"datum": 7.98}, "y": {"datum": -0.37}, "text": {"field": "t"}}}
   ]},
  {"width": 41, "height": 249, "data": {"values": []}, "mark": "point"},
  {"width": 187, "height": 149, "title": {"text": "Diabetes", "fontWeight": "normal", "dx": 11},
   "layer": [
    {"data": {"name": "flow"}, "transform": [{"filter": "datum.p == 'b2'"}],
     "mark": {"type": "circle", "size": 80, "opacity": 0.24, "color": "#8da19c"},
     "encoding": {
      "x": {"field": "x", "type": "quantitative", "scale": {"domain": [0.798, 5.45], "nice": false, "zero": false},
            "axis": {"values": [1.477,1.602,1.699,1.778,1.845,1.903,1.954,2,2.301,2.477,2.602,2.699,2.778,2.845,2.903,2.954,3,3.301,3.477,3.602,3.699,3.778,3.845,3.903,3.954,4,4.301,4.477,4.602,4.699,4.778,4.845,4.903,4.954,5,5.301], "tickCount": 100, "labelExpr": "datum.value == 2 ? '10²' : datum.value == 3 ? '10³' : datum.value == 4 ? '10⁴' : datum.value == 5 ? '10⁵' : ''", "title": "FITC-A", "titleX": 106, "domain": false, "tickSize": {"condition": {"test": "datum.value % 1 == 0", "value": 7}, "value": 4}, "tickColor": "#555", "labelPadding": 3, "titlePadding": 6, "labelOverlap": false, "labelFlush": false}},
      "y": {"field": "y", "type": "quantitative", "scale": {"domain": [1.41, 5.43], "nice": false, "zero": false},
            "axis": {"values": [1.477,1.602,1.699,1.778,1.845,1.903,1.954,2,2.301,2.477,2.602,2.699,2.778,2.845,2.903,2.954,3,3.301,3.477,3.602,3.699,3.778,3.845,3.903,3.954,4,4.301,4.477,4.602,4.699,4.778,4.845,4.903,4.954,5,5.301], "tickCount": 100, "labelExpr": "datum.value == 2 ? '10²' : datum.value == 3 ? '10³' : datum.value == 4 ? '10⁴' : datum.value == 5 ? '10⁵' : ''", "title": "PE-Cy7-A", "offset": -25, "domain": false, "tickSize": {"condition": {"test": "datum.value % 1 == 0", "value": 7}, "value": 4}, "tickColor": "#555", "labelPadding": 4, "titlePadding": 11, "labelOverlap": false, "labelFlush": false}}
     }},
    {"data": {"values": [{}]}, "mark": {"type": "rect", "filled": false, "color": "#555", "strokeWidth": 1.3}, "encoding": {"x": {"datum": 1.42}, "x2": {"datum": 5.45}, "y": {"datum": 1.41}, "y2": {"datum": 5.43}}},
    {"data": {"values": [{"g": 3.24}]}, "mark": {"type": "rule", "color": "#5b6c68", "strokeWidth": 1.4}, "encoding": {"x": {"field": "g", "type": "quantitative"}}},
    {"data": {"values": [{"g": 2.79}]}, "mark": {"type": "rule", "color": "#5b6c68", "strokeWidth": 1.4}, "encoding": {"y": {"field": "g", "type": "quantitative"}, "x": {"datum": 1.42}, "x2": {"datum": 5.45}}},
    {"data": {"values": [{"t":"Q1","x":2.61,"y":3.41},{"t":"Q2","x":3.83,"y":3.41},{"t":"Q3","x":2.61,"y":2.07},{"t":"Q4","x":3.83,"y":2.07}]},
     "mark": {"type": "text", "fontSize": 10, "color": "#5e7874", "baseline": "middle"},
     "encoding": {"x": {"field": "x", "type": "quantitative"}, "y": {"field": "y", "type": "quantitative"}, "text": {"field": "t"}}},
    {"data": {"values": [{"t": "16.58%"}]}, "mark": {"type": "text", "align": "right", "baseline": "middle"}, "encoding": {"x": {"datum": 5.27}, "y": {"datum": 5.06}, "text": {"field": "t"}}}
   ]},
  {"width": 45, "height": 1, "data": {"values": []}, "mark": "point"},
  {"width": 153, "height": 149,
   "layer": [
    {"data": {"name": "pd1"},
     "mark": {"type": "point", "filled": true, "color": "#111", "size": 40, "opacity": 1},
     "encoding": {
      "x": {"field": "x", "type": "quantitative", "scale": {"domain": [0.345, 2.5], "nice": false, "zero": false}, "axis": {"values": [1, 2], "tickCount": 100, "labelExpr": "datum.value == 1 ? 'Healthy' : 'Diabetes'", "title": null, "domain": false, "tickSize": 5, "labelPadding": 4, "labelOverlap": false, "labelFlush": false}},
      "y": {"field": "y", "type": "quantitative", "scale": {"domain": [0, 62.96], "nice": false}, "axis": {"values": [0, 20, 40, 60], "tickCount": 100, "format": "d", "title": "%PD-1⁺ on CD4⁺ cells", "offset": -11, "domain": false, "tickSize": 5, "labelPadding": 4, "titlePadding": 6, "labelOverlap": false, "labelFlush": false}},
      "shape": {"field": "g", "type": "nominal", "scale": {"domain": ["Healthy", "Diabetes"], "range": ["circle", "square"]}, "legend": null}
     }},
    {"data": {"values": [{}]}, "mark": {"type": "rule", "color": "#333"}, "encoding": {"x": {"datum": 0.5}, "y": {"datum": 0}, "y2": {"datum": 60}}},
    {"data": {"values": [{}]}, "mark": {"type": "rule", "color": "#333"}, "encoding": {"x": {"datum": 0.5}, "x2": {"datum": 2.5}, "y": {"datum": 0}}},
    {"data": {"name": "pd1s"}, "mark": {"type": "rule", "color": "#111", "strokeWidth": 1.3}, "encoding": {"x": {"field": "l", "type": "quantitative"}, "x2": {"field": "r"}, "y": {"field": "m", "type": "quantitative"}}},
    {"data": {"name": "pd1s"}, "mark": {"type": "rule", "color": "#111"}, "encoding": {"x": {"field": "c", "type": "quantitative"}, "y": {"field": "lo", "type": "quantitative"}, "y2": {"field": "hi"}}},
    {"data": {"name": "pd1s"}, "mark": {"type": "tick", "orient": "horizontal", "color": "#111", "size": 12, "thickness": 1}, "encoding": {"x": {"field": "c", "type": "quantitative"}, "y": {"field": "lo", "type": "quantitative"}}},
    {"data": {"name": "pd1s"}, "mark": {"type": "tick", "orient": "horizontal", "color": "#111", "size": 12, "thickness": 1}, "encoding": {"x": {"field": "c", "type": "quantitative"}, "y": {"field": "hi", "type": "quantitative"}}},
    {"data": {"values": [{}]}, "mark": {"type": "rule", "color": "#111"}, "encoding": {"x": {"datum": 1.04}, "x2": {"datum": 1.96}, "y": {"datum": 46.3}}},
    {"data": {"values": [{"t": "0.0121", "y": 50.1}, {"t": "*", "y": 56.0}]}, "mark": {"type": "text", "baseline": "middle"}, "encoding": {"x": {"datum": 1.5}, "y": {"field": "y", "type": "quantitative"}, "text": {"field": "t"}}}
   ]},

  {"width": 166, "height": 111,
   "layer": [
    {"data": {"name": "age"}, "mark": {"type": "circle", "color": "#111", "size": 24, "opacity": 1},
     "encoding": {
      "x": {"field": "x", "type": "quantitative", "scale": {"domain": [0, 100], "nice": false}, "axis": {"values": [0, 20, 40, 60, 80, 100], "tickCount": 100, "format": "d", "title": "Age (years)", "tickSize": 4, "labelPadding": 2, "titlePadding": 8, "labelOverlap": false, "labelFlush": false}},
      "y": {"field": "y", "type": "quantitative", "scale": {"domain": [0, 50], "nice": false}, "axis": {"values": [0, 10, 20, 30, 40, 50], "tickCount": 100, "format": "d", "title": "%PD-1⁺ on CD4⁺ cells", "tickSize": 4, "labelPadding": 3, "titlePadding": 3, "labelOverlap": false, "labelFlush": false}}
     }},
    {"data": {"values": [{"x": 35, "y": 20.0, "x2": 83, "y2": 23.1}]}, "mark": {"type": "rule", "color": "#222", "strokeWidth": 1}, "encoding": {"x": {"field": "x", "type": "quantitative"}, "y": {"field": "y", "type": "quantitative"}, "x2": {"field": "x2"}, "y2": {"field": "y2"}}},
    {"data": {"values": [{"s": "r", "v": "= 0.1078", "y": 54.6}, {"s": "p", "v": "= 0.6244", "y": 47.2}]}, "mark": {"type": "text", "align": "left", "baseline": "middle", "fontStyle": "italic"}, "encoding": {"x": {"datum": 5.6}, "y": {"field": "y", "type": "quantitative"}, "text": {"field": "s"}}},
    {"data": {"values": [{"s": "r", "v": "= 0.1078", "y": 54.6}, {"s": "p", "v": "= 0.6244", "y": 47.2}]}, "mark": {"type": "text", "align": "left", "baseline": "middle", "dx": 9}, "encoding": {"x": {"datum": 5.6}, "y": {"field": "y", "type": "quantitative"}, "text": {"field": "v"}}}
   ]},
  {"width": 41, "height": 181, "data": {"values": []}, "mark": "point"},
  {"width": 166, "height": 111,
   "layer": [
    {"data": {"name": "fpg"}, "mark": {"type": "circle", "color": "#111", "size": 24, "opacity": 1},
     "encoding": {
      "x": {"field": "x", "type": "quantitative", "scale": {"domain": [0, 20], "nice": false}, "axis": {"values": [0, 5, 10, 15, 20], "tickCount": 100, "format": "d", "title": "FPG (mmol/L)", "tickSize": 4, "labelPadding": 2, "titlePadding": 8, "labelOverlap": false, "labelFlush": false}},
      "y": {"field": "y", "type": "quantitative", "scale": {"domain": [0, 50], "nice": false}, "axis": {"values": [0, 10, 20, 30, 40, 50], "tickCount": 100, "format": "d", "title": "%PD-1⁺ on CD4⁺ cells", "tickSize": 4, "labelPadding": 3, "titlePadding": 3, "labelOverlap": false, "labelFlush": false}}
     }},
    {"data": {"values": [{"x": 1.3, "y": 24.6, "x2": 17.8, "y2": 17.6}]}, "mark": {"type": "rule", "color": "#222", "strokeWidth": 1}, "encoding": {"x": {"field": "x", "type": "quantitative"}, "y": {"field": "y", "type": "quantitative"}, "x2": {"field": "x2"}, "y2": {"field": "y2"}}},
    {"data": {"values": [{"s": "r", "v": "= 0.2218", "y": 54.6}, {"s": "p", "v": "= 0.3092", "y": 47.2}]}, "mark": {"type": "text", "align": "left", "baseline": "middle", "fontStyle": "italic"}, "encoding": {"x": {"datum": 1.36}, "y": {"field": "y", "type": "quantitative"}, "text": {"field": "s"}}},
    {"data": {"values": [{"s": "r", "v": "= 0.2218", "y": 54.6}, {"s": "p", "v": "= 0.3092", "y": 47.2}]}, "mark": {"type": "text", "align": "left", "baseline": "middle", "dx": 9}, "encoding": {"x": {"datum": 1.36}, "y": {"field": "y", "type": "quantitative"}, "text": {"field": "v"}}}
   ]},
  {"width": 45, "height": 1, "data": {"values": []}, "mark": "point"},
  {"width": 166, "height": 111,
   "layer": [
    {"data": {"name": "hba1c"}, "mark": {"type": "circle", "color": "#111", "size": 24, "opacity": 1},
     "encoding": {
      "x": {"field": "x", "type": "quantitative", "scale": {"domain": [0, 15], "nice": false}, "axis": {"values": [0, 5, 10, 15], "tickCount": 100, "format": "d", "title": "HbA1C (%)", "tickSize": 4, "labelPadding": 2, "titlePadding": 8, "labelOverlap": false, "labelFlush": false}},
      "y": {"field": "y", "type": "quantitative", "scale": {"domain": [0, 50], "nice": false}, "axis": {"values": [0, 10, 20, 30, 40, 50], "tickCount": 100, "format": "d", "title": "%PD-1⁺ on CD4⁺ cells", "tickSize": 4, "labelPadding": 3, "titlePadding": 3, "labelOverlap": false, "labelFlush": false}}
     }},
    {"data": {"values": [{"x": 5.5, "y": 21.6, "x2": 12.8, "y2": 22.1}]}, "mark": {"type": "rule", "color": "#222", "strokeWidth": 1}, "encoding": {"x": {"field": "x", "type": "quantitative"}, "y": {"field": "y", "type": "quantitative"}, "x2": {"field": "x2"}, "y2": {"field": "y2"}}},
    {"data": {"values": [{"s": "r", "v": "= 0.0201", "y": 54.6}, {"s": "p", "v": "= 0.9273", "y": 47.2}]}, "mark": {"type": "text", "align": "left", "baseline": "middle", "fontStyle": "italic"}, "encoding": {"x": {"datum": 0.99}, "y": {"field": "y", "type": "quantitative"}, "text": {"field": "s"}}},
    {"data": {"values": [{"s": "r", "v": "= 0.0201", "y": 54.6}, {"s": "p", "v": "= 0.9273", "y": 47.2}]}, "mark": {"type": "text", "align": "left", "baseline": "middle", "dx": 9}, "encoding": {"x": {"datum": 0.99}, "y": {"field": "y", "type": "quantitative"}, "text": {"field": "v"}}}
   ]},

  {"width": 166, "height": 111,
   "layer": [
    {"data": {"name": "bmi"}, "mark": {"type": "circle", "color": "#111", "size": 24, "opacity": 1},
     "encoding": {
      "x": {"field": "x", "type": "quantitative", "scale": {"domain": [20, 35], "nice": false, "zero": false}, "axis": {"values": [20, 25, 30, 35], "tickCount": 100, "format": "d", "labelExpr": "datum.value == 20 ? '0' : datum.value == 35 ? '15' : datum.label", "title": "BMI (kg/m²)", "tickSize": 4, "labelPadding": 2, "titlePadding": 8, "labelOverlap": false, "labelFlush": false}},
      "y": {"field": "y", "type": "quantitative", "scale": {"domain": [0, 50], "nice": false}, "axis": {"values": [0, 10, 20, 30, 40, 50], "tickCount": 100, "format": "d", "title": "%PD-1⁺ on CD4⁺ cells", "tickSize": 4, "labelPadding": 3, "titlePadding": 3, "labelOverlap": false, "labelFlush": false}}
     }},
    {"data": {"values": [{"x": 21.4, "y": 20.0, "x2": 31.5, "y2": 24.2}]}, "mark": {"type": "rule", "color": "#222", "strokeWidth": 1}, "encoding": {"x": {"field": "x", "type": "quantitative"}, "y": {"field": "y", "type": "quantitative"}, "x2": {"field": "x2"}, "y2": {"field": "y2"}}},
    {"data": {"values": [{"s": "r", "v": "= 0.1512", "y": 54.4}, {"s": "p", "v": "= 0.4909", "y": 46.8}]}, "mark": {"type": "text", "align": "left", "baseline": "middle", "fontStyle": "italic"}, "encoding": {"x": {"datum": 20.9}, "y": {"field": "y", "type": "quantitative"}, "text": {"field": "s"}}},
    {"data": {"values": [{"s": "r", "v": "= 0.1512", "y": 54.4}, {"s": "p", "v": "= 0.4909", "y": 46.8}]}, "mark": {"type": "text", "align": "left", "baseline": "middle", "dx": 9}, "encoding": {"x": {"datum": 20.9}, "y": {"field": "y", "type": "quantitative"}, "text": {"field": "v"}}}
   ]},
  {"width": 41, "height": 111, "data": {"values": []}, "mark": "point"},
  {"width": 166, "height": 111,
   "layer": [
    {"data": {"name": "insulin"}, "mark": {"type": "circle", "color": "#111", "size": 24, "opacity": 1},
     "encoding": {
      "x": {"field": "x", "type": "quantitative", "scale": {"domain": [0, 150], "nice": false}, "axis": {"values": [0, 50, 100, 150], "tickCount": 100, "format": "d", "title": "Insulin (μIU/mL)", "tickSize": 4, "labelPadding": 2, "titlePadding": 8, "labelOverlap": false, "labelFlush": false}},
      "y": {"field": "y", "type": "quantitative", "scale": {"domain": [0, 50], "nice": false}, "axis": {"values": [0, 10, 20, 30, 40, 50], "tickCount": 100, "format": "d", "title": "%PD-1⁺ on CD4⁺ cells", "tickSize": 4, "labelPadding": 3, "titlePadding": 3, "labelOverlap": false, "labelFlush": false}}
     }},
    {"data": {"values": [{"x": 3.9, "y": 21.0, "x2": 95, "y2": 23.4}]}, "mark": {"type": "rule", "color": "#222", "strokeWidth": 1}, "encoding": {"x": {"field": "x", "type": "quantitative"}, "y": {"field": "y", "type": "quantitative"}, "x2": {"field": "x2"}, "y2": {"field": "y2"}}},
    {"data": {"values": [{"s": "r", "v": "= 0.0708", "y": 54.4}, {"s": "p", "v": "= 0.7733", "y": 46.8}]}, "mark": {"type": "text", "align": "left", "baseline": "middle", "fontStyle": "italic"}, "encoding": {"x": {"datum": 10.2}, "y": {"field": "y", "type": "quantitative"}, "text": {"field": "s"}}},
    {"data": {"values": [{"s": "r", "v": "= 0.0708", "y": 54.4}, {"s": "p", "v": "= 0.7733", "y": 46.8}]}, "mark": {"type": "text", "align": "left", "baseline": "middle", "dx": 9}, "encoding": {"x": {"datum": 10.2}, "y": {"field": "y", "type": "quantitative"}, "text": {"field": "v"}}},
    {"data": {"values": [{"t": "(c)"}]}, "mark": {"type": "text", "align": "center", "baseline": "middle"}, "encoding": {"x": {"datum": 55.1}, "y": {"datum": -30.6}, "text": {"field": "t"}}}
   ]},
  {"width": 45, "height": 1, "data": {"values": []}, "mark": "point"},
  {"width": 166, "height": 111,
   "layer": [
    {"data": {"name": "dur"}, "mark": {"type": "circle", "color": "#111", "size": 24, "opacity": 1},
     "encoding": {
      "x": {"field": "x", "type": "quantitative", "scale": {"domain": [0, 50], "nice": false}, "axis": {"values": [0, 10, 20, 30, 40, 50], "tickCount": 100, "format": "d", "labelExpr": "datum.value == 20 ? '10' : datum.label", "title": "Diabetes duration", "tickSize": 4, "labelPadding": 2, "titlePadding": 8, "labelOverlap": false, "labelFlush": false}},
      "y": {"field": "y", "type": "quantitative", "scale": {"domain": [0, 50], "nice": false}, "axis": {"values": [0, 10, 20, 30, 40, 50], "tickCount": 100, "format": "d", "title": "%PD-1⁺ on CD4⁺ cells", "tickSize": 4, "labelPadding": 3, "titlePadding": 3, "labelOverlap": false, "labelFlush": false}}
     }},
    {"data": {"values": [{"x": 1.0, "y": 21.1, "x2": 39.1, "y2": 22.8}]}, "mark": {"type": "rule", "color": "#222", "strokeWidth": 1}, "encoding": {"x": {"field": "x", "type": "quantitative"}, "y": {"field": "y", "type": "quantitative"}, "x2": {"field": "x2"}, "y2": {"field": "y2"}}},
    {"data": {"values": [{"s": "r", "v": "= 0.0621", "y": 54.4}, {"s": "p", "v": "= 0.7782", "y": 46.8}]}, "mark": {"type": "text", "align": "left", "baseline": "middle", "fontStyle": "italic"}, "encoding": {"x": {"datum": 3.8}, "y": {"field": "y", "type": "quantitative"}, "text": {"field": "s"}}},
    {"data": {"values": [{"s": "r", "v": "= 0.0621", "y": 54.4}, {"s": "p", "v": "= 0.7782", "y": 46.8}]}, "mark": {"type": "text", "align": "left", "baseline": "middle", "dx": 9}, "encoding": {"x": {"datum": 3.8}, "y": {"field": "y", "type": "quantitative"}, "text": {"field": "v"}}}
   ]}
]
}
